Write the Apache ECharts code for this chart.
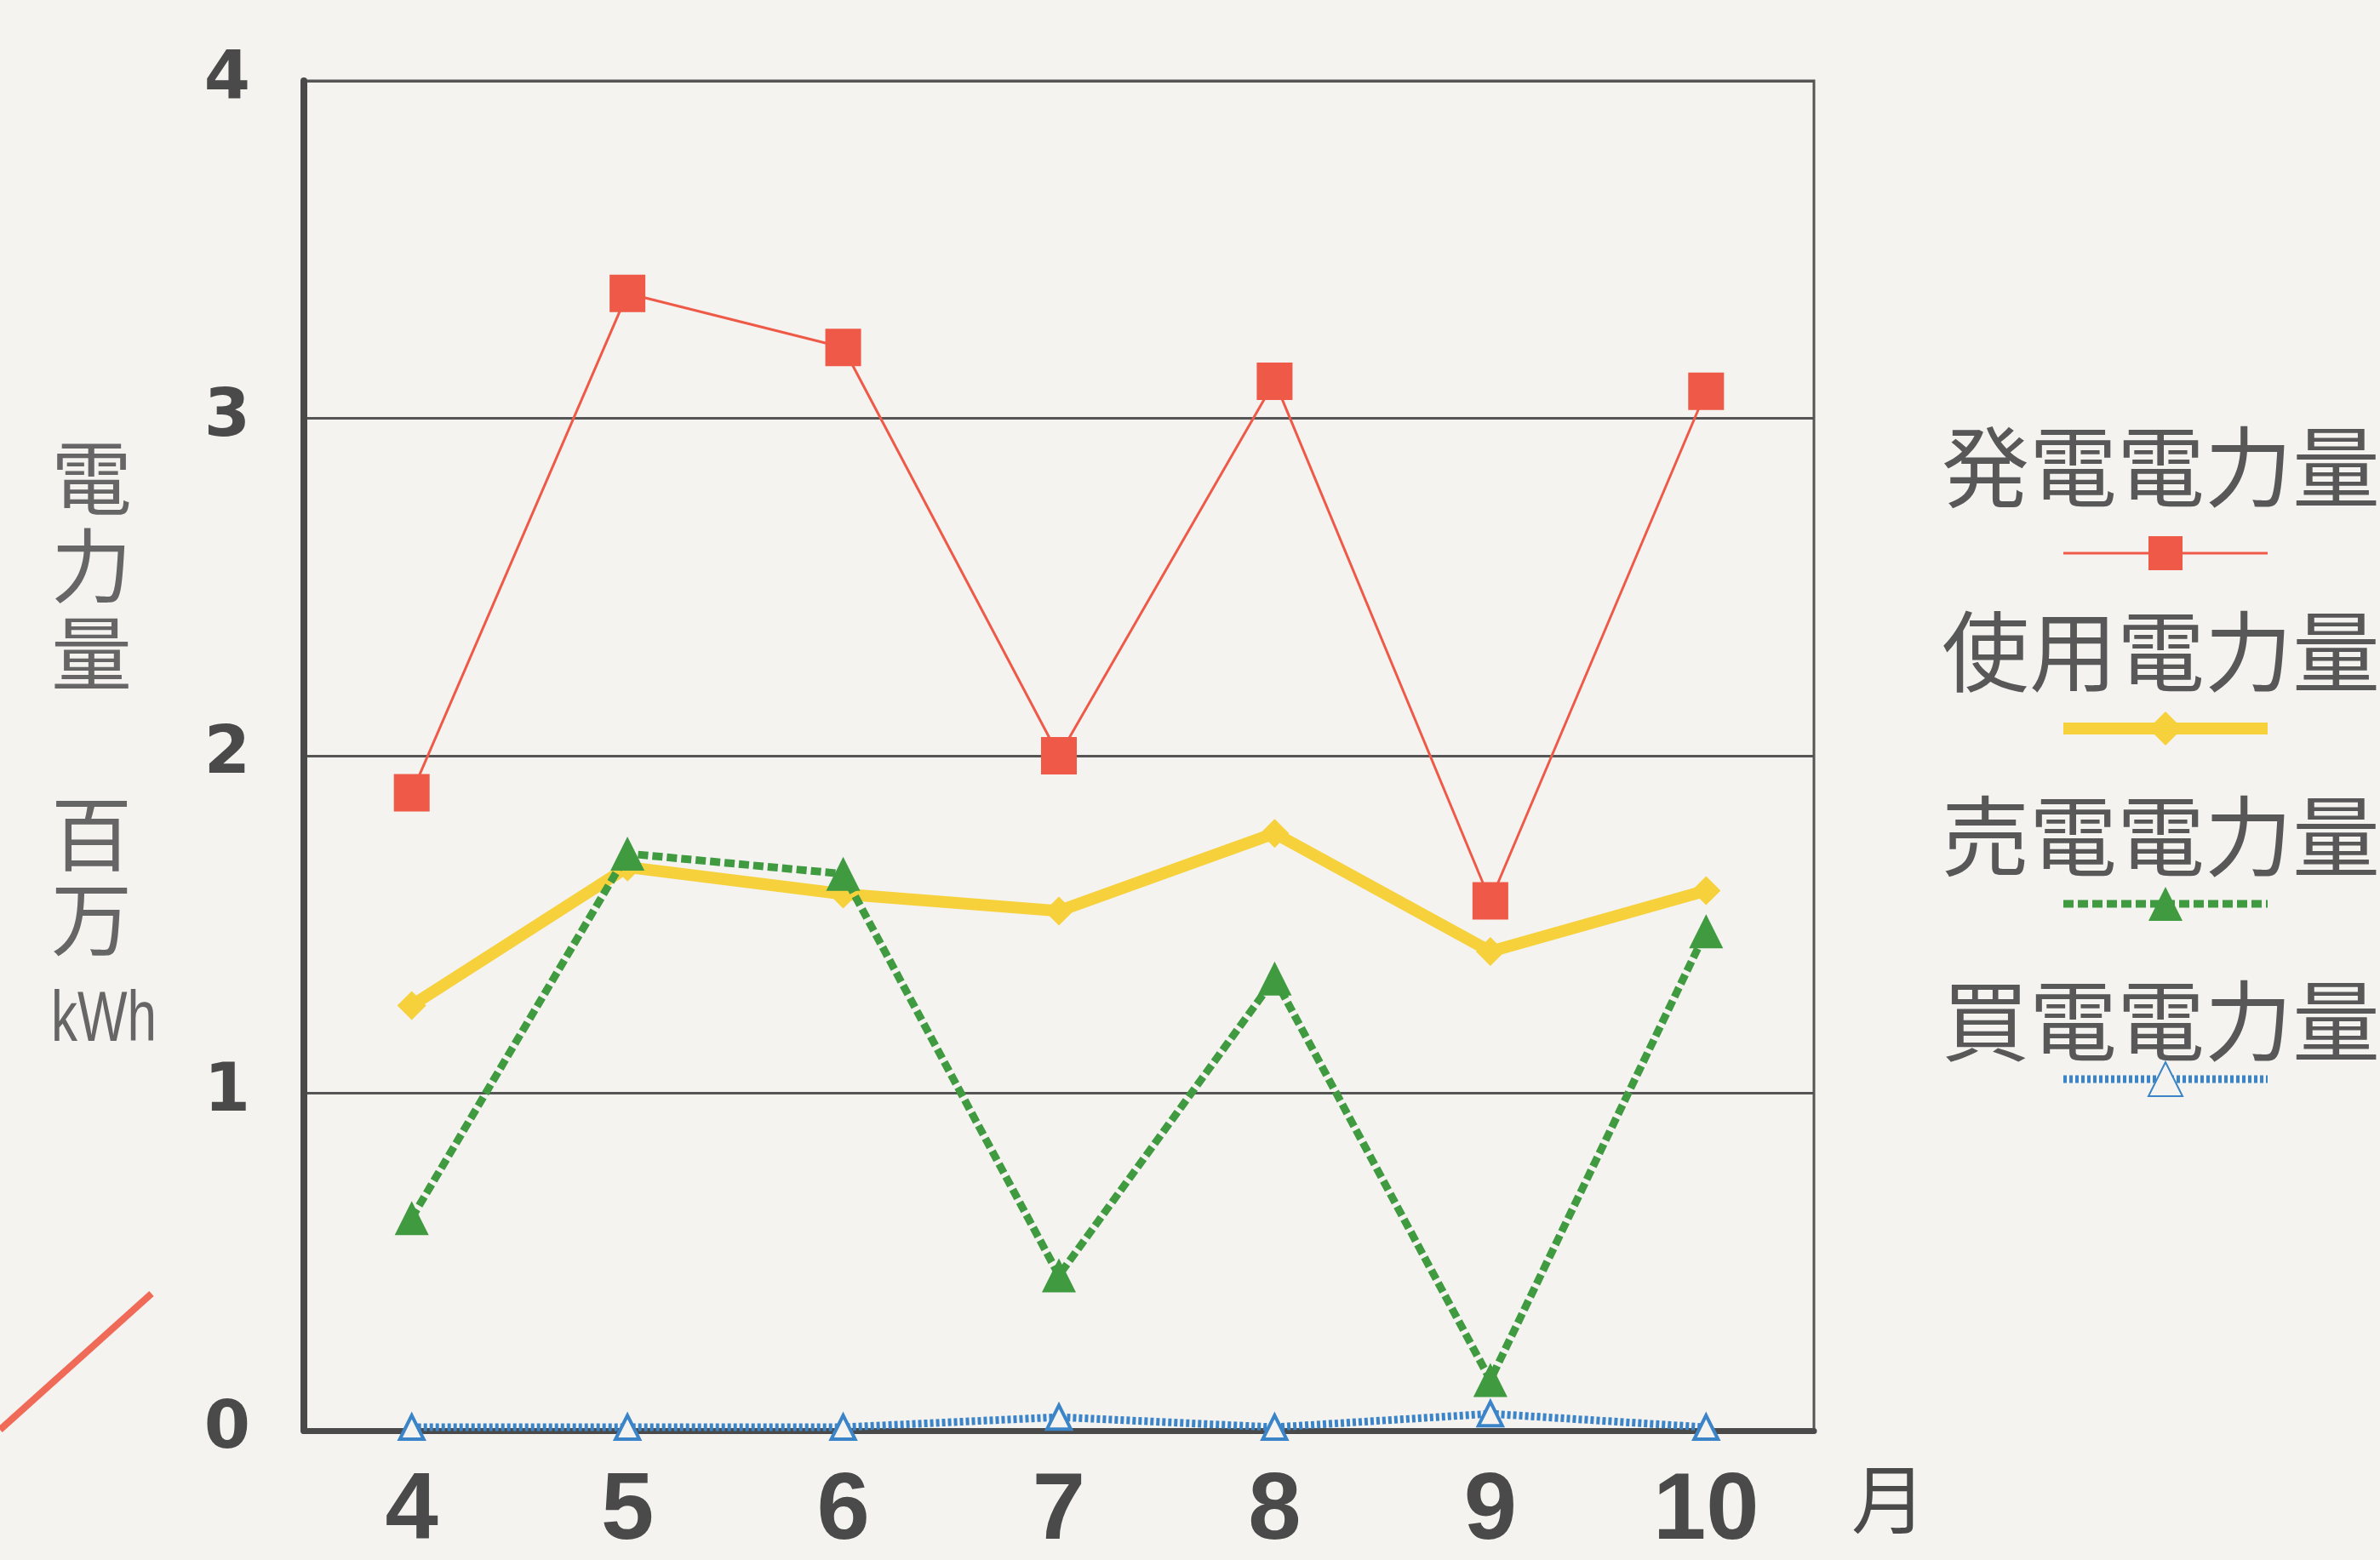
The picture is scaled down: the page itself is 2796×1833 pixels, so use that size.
<!doctype html>
<html lang="ja">
<head>
<meta charset="UTF-8">
<title>電力量グラフ</title>
<style>
  html, body { margin: 0; padding: 0; background: #f4f3f0; }
  #main { width: 2796px; height: 1833px; }
</style>
</head>
<body>
<div id="main"></div>
<script src="https://cdn.jsdelivr.net/npm/echarts@6/dist/echarts.min.js"></script>
<script>
// 月
var months = ['4', '5', '6', '7', '8', '9', '10'];
// 百万kWh
var hatsuden = [1.89, 3.37, 3.21, 2.00, 3.11, 1.57, 3.08];
var shiyou   = [1.26, 1.67, 1.59, 1.54, 1.77, 1.42, 1.60];
var baiden   = [0.63, 1.71, 1.65, 0.46, 1.34, 0.15, 1.48];
var kaiden   = [0.01, 0.01, 0.01, 0.04, 0.01, 0.05, 0.01];
var yTicks = [0, 1, 2, 3, 4];
var seriesNames = ['発電電力量', '使用電力量', '売電電力量', '買電電力量'];

var ink = '#4a4a4a';
var cjk = '"Noto Sans CJK JP", "Noto Sans", sans-serif';

var myChart = echarts.init(document.getElementById('main'));

var option = {
    backgroundColor: '#f4f3f0',
    animation: false,
    grid: {
        left: 357,
        right: 665,
        top: 95,
        bottom: 136,
        show: true,
        borderColor: '#555',
        borderWidth: 3
    },
    legend: [
        {
            // 名前だけ
            data: seriesNames,
            orient: 'vertical',
            left: 2270,
            top: 492,
            icon: 'rect',
            itemWidth: 0,
            itemHeight: 0,
            itemGap: 114,
            textStyle: {
                fontFamily: cjk,
                fontSize: 103,
                lineHeight: 103,
                color: '#585858'
            }
        },
        {
            // 線と記号だけ
            data: seriesNames,
            orient: 'vertical',
            left: 2412,
            top: 620,
            itemWidth: 240,
            itemHeight: 50,
            itemGap: 161,
            lineStyle: { width: 'inherit' },
            formatter: function () { return ''; }
        }
    ],
    xAxis: {
        type: 'category',
        data: months,
        boundaryGap: true,
        name: '月',
        nameLocation: 'end',
        nameGap: 44,
        nameTextStyle: {
            fontFamily: cjk,
            fontSize: 88,
            color: ink,
            verticalAlign: 'top',
            padding: [36, 0, 0, 0]
        },
        axisLine: { lineStyle: { color: ink, width: 7 } },
        axisTick: { show: false },
        axisLabel: {
            margin: 40,
            fontFamily: '"Liberation Sans Narrow", "Liberation Sans", sans-serif',
            fontWeight: 'bold',
            fontSize: 112,
            color: ink
        }
    },
    yAxis: {
        type: 'value',
        min: yTicks[0],
        max: yTicks[yTicks.length - 1],
        interval: 1,
        axisLine: { show: true, lineStyle: { color: ink, width: 8 } },
        axisTick: { show: false },
        splitLine: { lineStyle: { color: '#555', width: 3 } },
        axisLabel: {
            margin: 63,
            fontFamily: '"DejaVu Sans", sans-serif',
            fontWeight: 'bold',
            fontSize: 78,
            color: ink
        }
    },
    graphic: [
        {
            type: 'text',
            left: 60,
            top: 510,
            style: {
                text: '電\n力\n量',
                fontFamily: cjk,
                fontSize: 95,
                lineHeight: 103,
                fill: '#666'
            }
        },
        {
            type: 'text',
            left: 60,
            top: 930,
            style: {
                text: '百\n万',
                fontFamily: cjk,
                fontSize: 95,
                lineHeight: 100,
                fill: '#666'
            }
        },
        {
            type: 'text',
            x: 60,
            y: 1158,
            scaleY: 1.35,
            style: {
                text: 'kWh',
                fontFamily: '"Liberation Sans Narrow", "Liberation Sans", sans-serif',
                fontSize: 62,
                fill: '#666'
            }
        },
        {
            type: 'line',
            shape: { x1: 0, y1: 1680, x2: 178, y2: 1520 },
            style: { stroke: '#f06a58', lineWidth: 8 }
        }
    ],
    series: [
        {
            name: seriesNames[0],
            type: 'line',
            data: hatsuden,
            symbol: 'rect',
            symbolSize: [42, 44],
            lineStyle: { color: '#ef5a48', width: 3 },
            itemStyle: { color: '#ef5a48' },
            z: 4
        },
        {
            name: seriesNames[1],
            type: 'line',
            data: shiyou,
            symbol: 'diamond',
            symbolSize: 34,
            lineStyle: { color: '#f6d13c', width: 14 },
            itemStyle: { color: '#f6d13c' },
            z: 2
        },
        {
            name: seriesNames[2],
            type: 'line',
            data: baiden,
            symbol: 'triangle',
            symbolSize: 40,
            lineStyle: { color: '#3f9a40', width: 9, type: [12, 5] },
            itemStyle: { color: '#3f9a40' },
            z: 3
        },
        {
            name: seriesNames[3],
            type: 'line',
            data: kaiden,
            symbol: 'triangle',
            symbolSize: 28,
            lineStyle: { color: '#3b84c8', width: 9, type: [4, 3] },
            itemStyle: { color: '#f4f3f0', borderColor: '#3b84c8', borderWidth: 4 },
            z: 3
        }
    ]
};

myChart.setOption(option);
</script>
</body>
</html>
